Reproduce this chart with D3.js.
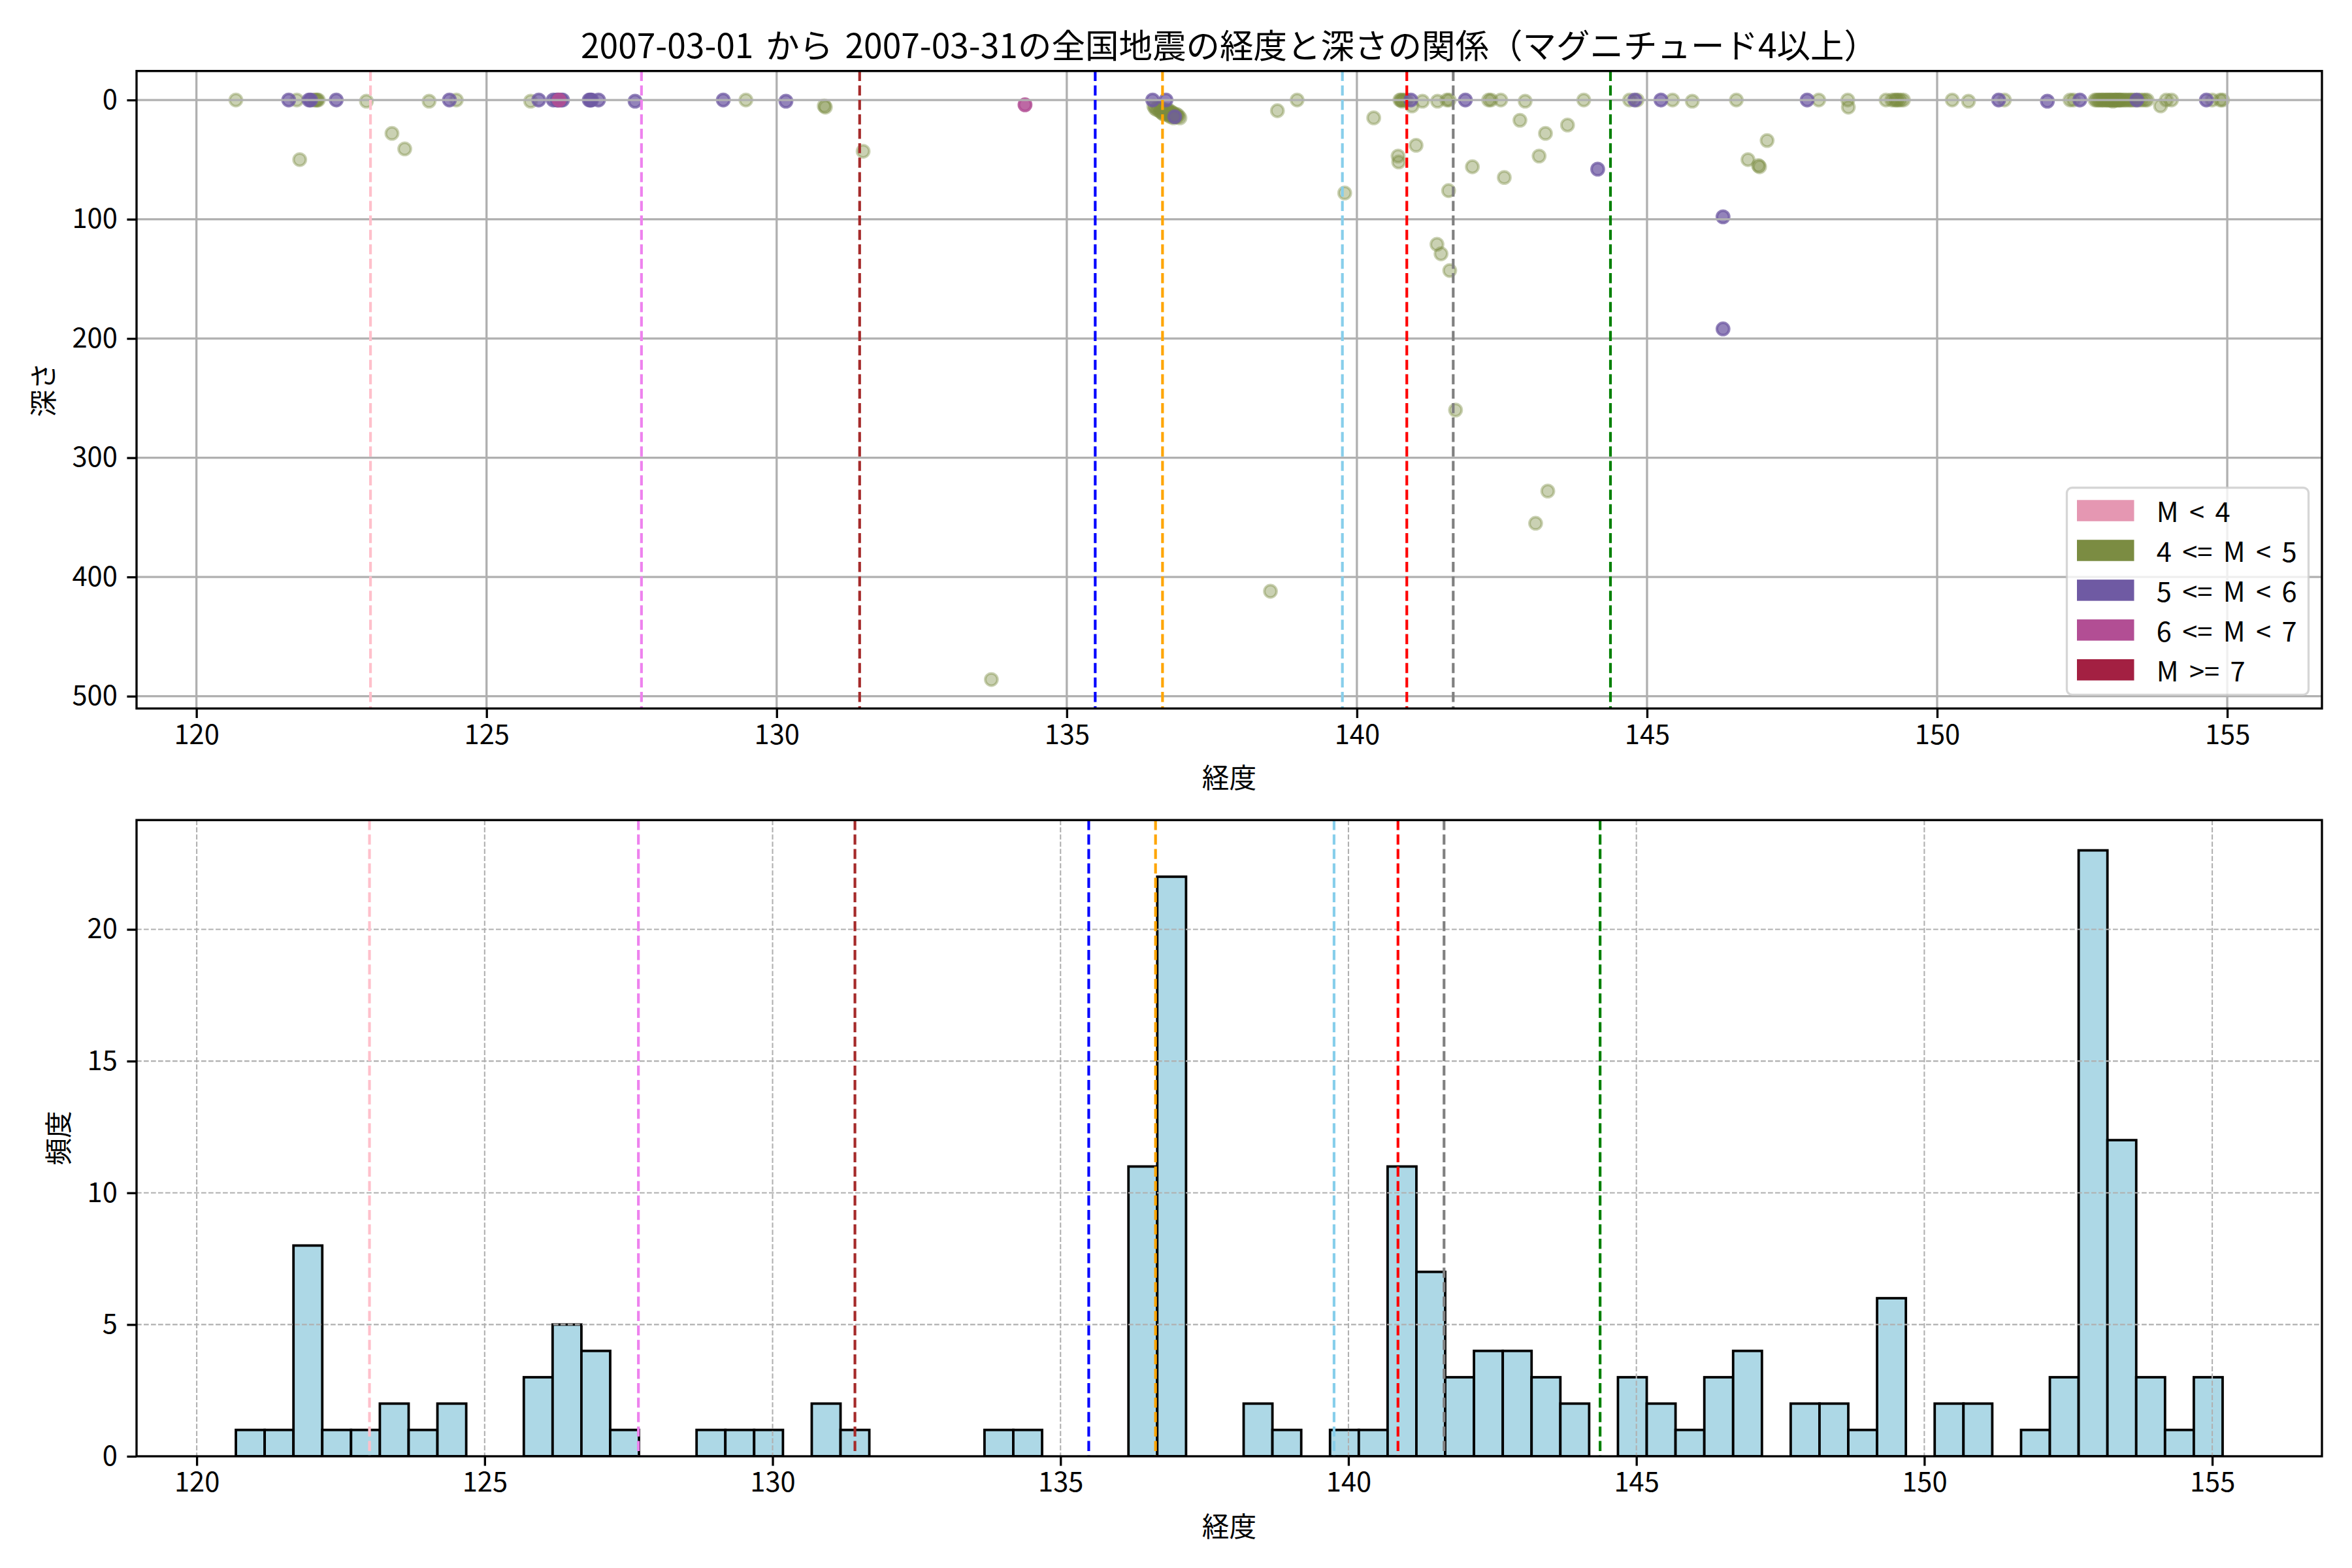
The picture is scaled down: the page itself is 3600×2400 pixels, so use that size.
<!DOCTYPE html>
<html><head><meta charset="utf-8">
<script src="https://cdn.jsdelivr.net/npm/d3@7"></script>
<style>
body{margin:0;background:#fff}
text{font-family:"Noto Sans CJK JP","Noto Sans",sans-serif;fill:#000}
</style>
</head><body>
<svg id="chart" width="3600" height="2400" xmlns="http://www.w3.org/2000/svg"></svg>
<script>
// ---------------- data ----------------
const titleText = "2007-03-01 から 2007-03-31の全国地震の経度と深さの関係（マグニチュード4以上）";
const magLabels = ["M < 4", "4 <= M < 5", "5 <= M < 6", "6 <= M < 7", "M >= 7"];

// earthquake longitude, depth (km) and magnitude class (index into magLabels)
const quakeLon = [
  120.68, 121.59,
  121.73, 121.78, 121.94, 121.97, 122.03, 122.06, 122.08, 122.10,
  122.41, 122.93, 123.37, 123.59, 124.01, 124.36, 124.48,
  125.76, 125.90, 126.15, 126.21, 126.23, 126.25, 126.28, 126.31,
  126.77, 126.79, 126.81, 126.93, 127.56, 129.08, 129.47, 130.16,
  130.82, 130.84, 131.49, 133.70, 134.28,
  136.48, 136.50, 136.52, 136.55, 136.57, 136.60, 136.62, 136.63, 136.65, 136.66, 136.67,
  136.70, 136.71, 136.72, 136.73, 136.74, 136.75, 136.76, 136.77, 136.78, 136.79, 136.80,
  136.81, 136.82, 136.83, 136.84, 136.85, 136.86, 136.87, 136.89, 136.90, 136.92, 136.95,
  138.51, 138.63, 138.97, 139.79, 140.29,
  140.71, 140.72, 140.74, 140.76, 140.78, 140.80, 140.85, 140.93, 140.95, 141.02, 141.13,
  141.38, 141.39, 141.45, 141.55, 141.58, 141.59, 141.60,
  141.70, 141.87, 141.99, 142.27, 142.31, 142.48, 142.54,
  142.81, 142.90, 143.08, 143.14, 143.25, 143.29, 143.63, 143.91, 144.15,
  144.70, 144.79, 144.83, 145.24, 145.44, 145.78, 146.31, 146.31, 146.54,
  146.74, 146.92, 146.94, 147.07, 147.76, 147.96, 148.46, 148.47,
  149.12, 149.22, 149.27, 149.30, 149.33, 149.37, 149.42,
  150.26, 150.54, 151.06, 151.16, 151.90, 152.29, 152.35, 152.46,
  152.72, 152.75, 152.78, 152.80, 152.83, 152.85, 152.87, 152.90, 152.92, 152.94, 152.96, 152.98,
  153.00, 153.02, 153.03, 153.05, 153.07, 153.08, 153.10, 153.12, 153.14, 153.15, 153.17,
  153.20, 153.23, 153.26, 153.30, 153.33, 153.36, 153.40, 153.44, 153.48, 153.53, 153.58, 153.62,
  153.85, 153.95, 154.04, 154.64, 154.74, 154.88, 154.92
];
const quakeDepth = [
  0, 0,
  0, 50, 0, 0, 0, 0, 0, 0,
  0, 1, 28, 41, 1, 0, 0,
  1, 0, 0, 0, 0, 0, 0, 0,
  0, 0, 0, 0, 1, 0, 0, 1,
  5, 6, 43, 486, 4,
  0, 5, 7, 8, 6, 9, 10, 7, 11, 8, 12,
  9, 0, 11, 8, 12, 10, 13, 9, 11, 14, 10,
  12, 13, 11, 15, 12, 14, 13, 12, 14, 13, 15,
  412, 9, 0, 78, 15,
  47, 52, 0, 0, 1, 0, 0, 0, 5, 38, 1,
  121, 1, 129, 0, 76, 0, 143,
  260, 0, 56, 0, 0, 0, 65,
  17, 1, 355, 47, 28, 328, 21, 0, 58,
  0, 0, 0, 0, 0, 1, 98, 192, 0,
  50, 55, 56, 34, 0, 0, 0, 6,
  0, 0, 0, 0, 0, 0, 0,
  0, 1, 0, 0, 1, 0, 0, 0,
  0, 0, 0, 0, 0, 0, 0, 0, 0, 0, 0, 0,
  0, 0, 1, 0, 0, 0, 0, 0, 0, 0, 0,
  0, 0, 0, 0, 0, 0, 0, 0, 0, 0, 0, 0,
  5, 0, 0, 0, 0, 0, 0
];
const quakeClass = [
  1, 2,
  1, 1, 2, 2, 1, 1, 1, 1,
  2, 1, 1, 1, 1, 2, 1,
  1, 2, 2, 2, 2, 3, 2, 2,
  2, 2, 2, 2, 2, 2, 1, 2,
  1, 1, 1, 1, 3,
  2, 1, 1, 1, 1, 1, 1, 1, 1, 1, 1,
  1, 2, 1, 1, 1, 1, 1, 1, 1, 1, 1,
  1, 1, 1, 1, 1, 2, 1, 1, 1, 1, 1,
  1, 1, 1, 1, 1,
  1, 1, 1, 1, 1, 1, 1, 2, 1, 1, 1,
  1, 1, 1, 1, 1, 1, 1,
  1, 2, 1, 1, 1, 1, 1,
  1, 1, 1, 1, 1, 1, 1, 1, 2,
  1, 2, 1, 2, 1, 1, 2, 2, 1,
  1, 1, 1, 1, 2, 1, 1, 1,
  1, 1, 1, 1, 1, 1, 1,
  1, 1, 2, 1, 2, 1, 1, 2,
  1, 1, 1, 1, 1, 1, 1, 1, 1, 1, 1, 1,
  1, 1, 1, 1, 1, 1, 1, 1, 1, 1, 1,
  1, 1, 1, 1, 1, 1, 1, 2, 1, 1, 1, 1,
  1, 1, 1, 2, 1, 1, 1
];

// reference longitudes drawn as dashed vertical lines
const refLon = [123.0, 127.67, 131.43, 135.49, 136.65, 139.75, 140.86, 141.66, 144.37];

// histogram of longitudes (bin width 0.5 from the minimum longitude)
const histStart = 120.68;
const histWidth = 0.5;
const histCounts = [1,1,8,1,1,2,1,2,0,0,3,5,4,1,0,0,1,1,1,0,2,1,0,0,0,0,1,1,0,0,0,11,22,0,0,2,1,0,1,1,
                    11,7,3,4,4,3,2,0,3,2,1,3,4,0,2,2,1,6,0,2,2,0,1,3,23,12,3,1,3];

const lonTicks = [120, 125, 130, 135, 140, 145, 150, 155];
const depthTicks = [0, 100, 200, 300, 400, 500];
const countTicks = [0, 5, 10, 15, 20];

// ---------------- styles ----------------
const magColors = ["#e597b2", "#7b8c42", "#6f5aa3", "#b24e94", "#a32042"];
const magAlpha = [0.4, 0.4, 0.75, 0.85, 0.9];
const refColors = ["pink", "violet", "brown", "blue", "orange", "skyblue", "red", "gray", "green"];

const FS = 41.67, LW = 4.17, SPINE = 3.33;
const svg = d3.select("#chart");

const P1 = {l: 209, r: 3554, t: 108.7, b: 1084.4};
const P2 = {l: 209, r: 3554, t: 1255.2, b: 2229};

function pad(ext){ const r = ext[1]-ext[0]; return [ext[0]-0.05*r, ext[1]+0.05*r]; }

// ---------------- top scatter ----------------
const quakes = quakeLon.map((lon,i)=>({lon, depth: quakeDepth[i], cls: quakeClass[i]}));
const x1 = d3.scaleLinear().domain(pad(d3.extent(quakeLon))).range([P1.l, P1.r]);
const y1 = d3.scaleLinear().domain(pad([0, d3.max(quakeDepth)])).range([P1.t, P1.b]);

const defs = svg.append("defs");
defs.append("clipPath").attr("id","clip1").append("rect")
  .attr("x",P1.l).attr("y",P1.t).attr("width",P1.r-P1.l).attr("height",P1.b-P1.t);
defs.append("clipPath").attr("id","clip2").append("rect")
  .attr("x",P2.l).attr("y",P2.t).attr("width",P2.r-P2.l).attr("height",P2.b-P2.t);

const g1 = svg.append("g").attr("clip-path","url(#clip1)");
const sorted = quakes.slice().sort((a,b)=>a.cls-b.cls);
g1.selectAll("circle.q").data(sorted).join("circle")
  .attr("cx", d=>x1(d.lon)).attr("cy", d=>y1(d.depth)).attr("r", 9.4)
  .attr("fill", d=>magColors[d.cls]).attr("fill-opacity", d=>magAlpha[d.cls])
  .attr("stroke", d=>magColors[d.cls]).attr("stroke-opacity", d=>magAlpha[d.cls])
  .attr("stroke-width", 4);

// grid (solid)
g1.selectAll("line.gx").data(lonTicks).join("line")
  .attr("x1",d=>x1(d)).attr("x2",d=>x1(d)).attr("y1",P1.t).attr("y2",P1.b)
  .attr("stroke","#b0b0b0").attr("stroke-width",SPINE);
g1.selectAll("line.gy").data(depthTicks).join("line")
  .attr("y1",d=>y1(d)).attr("y2",d=>y1(d)).attr("x1",P1.l).attr("x2",P1.r)
  .attr("stroke","#b0b0b0").attr("stroke-width",SPINE);

// reference dashed lines
g1.selectAll("line.ref").data(refLon).join("line")
  .attr("x1",d=>x1(d)).attr("x2",d=>x1(d)).attr("y1",P1.t).attr("y2",P1.b)
  .attr("stroke",(d,i)=>refColors[i]).attr("stroke-width",LW)
  .attr("stroke-dasharray","15.4,6.7");

// ---------------- histogram ----------------
const bins = histCounts.map((c,i)=>({x0: histStart + i*histWidth, x1: histStart + (i+1)*histWidth, c}));
const x2 = d3.scaleLinear().domain(pad([bins[0].x0, bins[bins.length-1].x1])).range([P2.l, P2.r]);
const y2 = d3.scaleLinear().domain([0, d3.max(histCounts)*1.05]).range([P2.b, P2.t]);

const g2 = svg.append("g").attr("clip-path","url(#clip2)");
g2.selectAll("rect.bar").data(bins.filter(b=>b.c>0)).join("rect")
  .attr("x",d=>x2(d.x0)).attr("width",d=>x2(d.x1)-x2(d.x0))
  .attr("y",d=>y2(d.c)).attr("height",d=>y2(0)-y2(d.c))
  .attr("fill","#add8e6").attr("stroke","#000").attr("stroke-width",3.8);

g2.selectAll("line.gx").data(lonTicks).join("line")
  .attr("x1",d=>x2(d)).attr("x2",d=>x2(d)).attr("y1",P2.t).attr("y2",P2.b)
  .attr("stroke","#b0b0b0").attr("stroke-width",2.08).attr("stroke-dasharray","7.7,3.3");
g2.selectAll("line.gy").data(countTicks).join("line")
  .attr("y1",d=>y2(d)).attr("y2",d=>y2(d)).attr("x1",P2.l).attr("x2",P2.r)
  .attr("stroke","#b0b0b0").attr("stroke-width",2.08).attr("stroke-dasharray","7.7,3.3");

g2.selectAll("line.ref").data(refLon).join("line")
  .attr("x1",d=>x2(d)).attr("x2",d=>x2(d)).attr("y1",P2.t).attr("y2",P2.b)
  .attr("stroke",(d,i)=>refColors[i]).attr("stroke-width",LW)
  .attr("stroke-dasharray","15.4,6.7");

// ---------------- axes ----------------
function axes(P, xs, ys, xt, yt){
  const gx = svg.append("g").attr("transform",`translate(0,${P.b})`)
    .call(d3.axisBottom(xs).tickValues(xt).tickSize(14.6).tickPadding(10).tickFormat(d3.format("d")));
  const gy = svg.append("g").attr("transform",`translate(${P.l},0)`)
    .call(d3.axisLeft(ys).tickValues(yt).tickSize(14.6).tickPadding(14.6).tickFormat(d3.format("d")));
  [gx,gy].forEach(g=>{
    g.select(".domain").remove();
    g.selectAll(".tick line").attr("stroke","#000").attr("stroke-width",SPINE);
    g.selectAll(".tick text").attr("font-size",FS).attr("fill","#000")
      .style("font-family",'"Noto Sans CJK JP","Noto Sans",sans-serif');
  });
  svg.append("rect").attr("x",P.l).attr("y",P.t).attr("width",P.r-P.l).attr("height",P.b-P.t)
    .attr("fill","none").attr("stroke","#000").attr("stroke-width",SPINE);
}
axes(P1, x1, y1, lonTicks, depthTicks);
axes(P2, x2, y2, lonTicks, countTicks);

// labels
svg.append("text").attr("x",(P1.l+P1.r)/2).attr("y",66.6).attr("text-anchor","middle")
  .attr("dominant-baseline","central").attr("font-size",51.5).attr("word-spacing",7).text(titleText);
svg.append("text").attr("x",(P1.l+P1.r)/2).attr("y",1188).attr("text-anchor","middle")
  .attr("dominant-baseline","central").attr("font-size",FS).text("経度");
svg.append("text").attr("x",(P2.l+P2.r)/2).attr("y",2334).attr("text-anchor","middle")
  .attr("dominant-baseline","central").attr("font-size",FS).text("経度");
svg.append("text").attr("transform",`translate(64,${(P1.t+P1.b)/2}) rotate(-90)`).attr("text-anchor","middle")
  .attr("dominant-baseline","central").attr("font-size",FS).text("深さ");
svg.append("text").attr("transform",`translate(87,${(P2.t+P2.b)/2}) rotate(-90)`).attr("text-anchor","middle")
  .attr("dominant-baseline","central").attr("font-size",FS).text("頻度");

// ---------------- legend ----------------
const lg = svg.append("g");
lg.append("rect").attr("x",3163.5).attr("y",746.5).attr("width",3533.5-3163.5).attr("height",1063.3-746.5)
  .attr("rx",8).attr("fill","#fff").attr("fill-opacity",0.8)
  .attr("stroke","#cccccc").attr("stroke-opacity",0.8).attr("stroke-width",SPINE);
const rowY = d3.scaleLinear().domain([0,4]).range([781.3,1025]);
magLabels.forEach((lab,i)=>{
  lg.append("rect").attr("x",3179).attr("y",rowY(i)-16).attr("width",87.5).attr("height",32.5)
    .attr("fill",magColors[i]);
  lg.append("text").attr("x",3300.8).attr("y",rowY(i)).attr("dominant-baseline","central")
    .attr("font-size",FS).attr("word-spacing",7).text(lab);
});
</script>
</body></html>
